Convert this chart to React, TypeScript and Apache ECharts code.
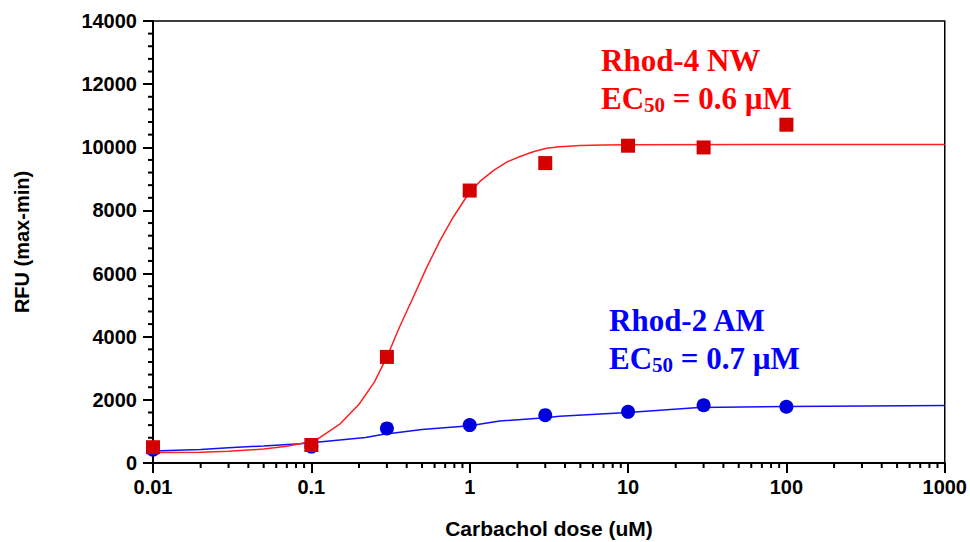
import React, { useEffect, useRef } from "react";
import * as echarts from "echarts";

// Measured data points (Carbachol dose in uM, RFU max-min)
const doses = [0.01, 0.1, 0.3, 1, 3, 10, 30, 100];
const rhod4Values = [500, 570, 3360, 8630, 9500, 10050, 9995, 10715];
const rhod2Values = [420, 520, 1095, 1200, 1515, 1620, 1830, 1780];

// Fitted curves
const rhod4CurveDoses = [0.01, 0.02, 0.03, 0.05, 0.07, 0.1, 0.113, 0.152, 0.2, 0.25, 0.3, 0.36, 0.44, 0.53, 0.65, 0.79, 0.98, 1.16, 1.41, 1.71, 2.08, 2.52, 3.06, 3.71, 5, 7, 10, 100, 1000];
const rhod4CurveValues = [330, 340, 370, 440, 530, 680, 800, 1240, 1860, 2560, 3360, 4300, 5250, 6150, 7050, 7800, 8520, 8920, 9260, 9530, 9710, 9860, 9970, 10020, 10060, 10075, 10080, 10090, 10090];
const rhod2CurveDoses = [0.01, 0.02, 0.03, 0.05, 0.085, 0.1, 0.22, 0.28, 0.5, 1, 1.55, 3, 3.7, 10, 28, 100, 1000];
const rhod2CurveValues = [380, 430, 480, 540, 610, 640, 810, 900, 1060, 1180, 1330, 1430, 1480, 1600, 1760, 1790, 1825];

// Axis ticks
const xMinorTicks = [
  0.02, 0.03, 0.04, 0.05, 0.06, 0.07, 0.08, 0.09,
  0.2, 0.3, 0.4, 0.5, 0.6, 0.7, 0.8, 0.9,
  2, 3, 4, 5, 6, 7, 8, 9,
  20, 30, 40, 50, 60, 70, 80, 90,
  200, 300, 400, 500, 600, 700, 800, 900,
];
const yMajorStep = 2000;
const yMinorPerMajor = 5;
const yMax = 14000;

const SERIF = "'Liberation Serif', 'Times New Roman', serif";
const SANS = "'Liberation Sans', Arial, sans-serif";

function textWidth(text: string, font: string): number {
  const c = document.createElement("canvas").getContext("2d");
  if (!c) return text.length * 15;
  c.font = font;
  return c.measureText(text).width;
}

function labelBlock(x: number, y1: number, name: string, ec: string, color: string) {
  const mainFont = `bold 31px ${SERIF}`;
  const subFont = `bold 21px ${SERIF}`;
  const wEC = textWidth("EC", mainFont);
  const wSub = textWidth("50", subFont);
  const y2 = y1 + 38.5;
  return [
    { type: "text", x, y: y1, style: { text: name, font: mainFont, fill: color, verticalAlign: "middle" } },
    { type: "text", x, y: y2, style: { text: "EC", font: mainFont, fill: color, verticalAlign: "middle" } },
    { type: "text", x: x + wEC, y: y2 + 6.5, style: { text: "50", font: subFont, fill: color, verticalAlign: "middle" } },
    { type: "text", x: x + wEC + wSub, y: y2, style: { text: ` = ${ec} µM`, font: mainFont, fill: color, verticalAlign: "middle" } },
  ];
}

export default function App() {
  const ref = useRef<HTMLDivElement>(null);
  useEffect(() => {
    if (!ref.current) return;
    const chart = echarts.init(ref.current, undefined, { renderer: "svg" });
    const fmt = (v: number) => String(Number(v.toPrecision(3)));
    const baseGraphic: any[] = [
      ...labelBlock(601, 60, "Rhod-4 NW", "0.6", "#ff0000"),
      ...labelBlock(609, 320, "Rhod-2 AM", "0.7", "#0000ff"),
      {
        type: "text",
        x: 549,
        y: 528,
        style: { text: "Carbachol dose (uM)", font: `bold 21px ${SANS}`, fill: "#000", align: "center", verticalAlign: "middle" },
      },
      {
        type: "text",
        x: 22,
        y: 242,
        rotation: Math.PI / 2,
        style: { text: "RFU (max-min)", font: `bold 20px ${SANS}`, fill: "#000", align: "center", verticalAlign: "middle" },
      },
    ];
    chart.setOption({
      animation: false,
      backgroundColor: "#fff",
      grid: { left: 153, right: 25, top: 21, bottom: 79, show: true, borderColor: "#000", borderWidth: 1.5 },
      xAxis: {
        type: "log",
        logBase: 10,
        min: 0.01,
        max: 1000,
        interval: 1,
        axisLine: { show: true, lineStyle: { color: "#000", width: 2 } },
        axisTick: { show: true, length: 10, lineStyle: { color: "#000", width: 2 } },
        axisLabel: { margin: 14, color: "#000", fontSize: 20, fontWeight: "bold", fontFamily: SANS, formatter: fmt },
        splitLine: { show: false },
        minorTick: { show: false },
      },
      yAxis: {
        type: "value",
        min: 0,
        max: yMax,
        interval: yMajorStep,
        axisLine: { show: true, lineStyle: { color: "#000", width: 2 } },
        axisTick: { show: true, length: 10, lineStyle: { color: "#000", width: 2 } },
        minorTick: { show: false },
        axisLabel: { margin: 16, color: "#000", fontSize: 20, fontWeight: "bold", fontFamily: SANS, formatter: (v: number) => String(v) },
        splitLine: { show: false },
      },
      series: [
        {
          type: "line",
          data: rhod2CurveDoses.map((d, i) => [d, rhod2CurveValues[i]]),
          showSymbol: false,
          smooth: false,
          lineStyle: { color: "#1010ff", width: 1.5 },
          z: 2,
        },
        {
          type: "line",
          data: rhod4CurveDoses.map((d, i) => [d, rhod4CurveValues[i]]),
          showSymbol: false,
          smooth: false,
          lineStyle: { color: "#ff2020", width: 1.5, join: "round" },
          z: 3,
        },
        {
          type: "scatter",
          data: doses.map((d, i) => [d, rhod2Values[i]]),
          symbol: "circle",
          symbolSize: 14,
          itemStyle: { color: "#0000dd", opacity: 1 },
          z: 4,
        },
        {
          type: "scatter",
          data: doses.map((d, i) => [d, rhod4Values[i]]),
          symbol: "rect",
          symbolSize: 14,
          itemStyle: { color: "#d40000", opacity: 1 },
          z: 5,
        },
      ],
      graphic: baseGraphic,
    });

    // Minor ticks positioned through the chart's own scales
    const ticks: any[] = [];
    xMinorTicks.forEach((v) => {
      const p = chart.convertToPixel({ xAxisIndex: 0, yAxisIndex: 0 }, [v, 0]) as number[];
      ticks.push({ type: "line", shape: { x1: p[0], y1: p[1], x2: p[0], y2: p[1] + 5 }, style: { stroke: "#000", lineWidth: 2 } });
    });
    const step = yMajorStep / yMinorPerMajor;
    for (let v = step; v < yMax; v += step) {
      if (Math.abs(v % yMajorStep) < 1e-6) continue;
      const p = chart.convertToPixel({ xAxisIndex: 0, yAxisIndex: 0 }, [0.01, v]) as number[];
      ticks.push({ type: "line", shape: { x1: p[0] - 5, y1: p[1], x2: p[0], y2: p[1] }, style: { stroke: "#000", lineWidth: 2 } });
    }
    chart.setOption({ graphic: [...baseGraphic, ...ticks] });
    return () => chart.dispose();
  }, []);
  return <div ref={ref} style={{ width: 970, height: 542, position: "absolute", left: 0, top: 0 }} />;
}
